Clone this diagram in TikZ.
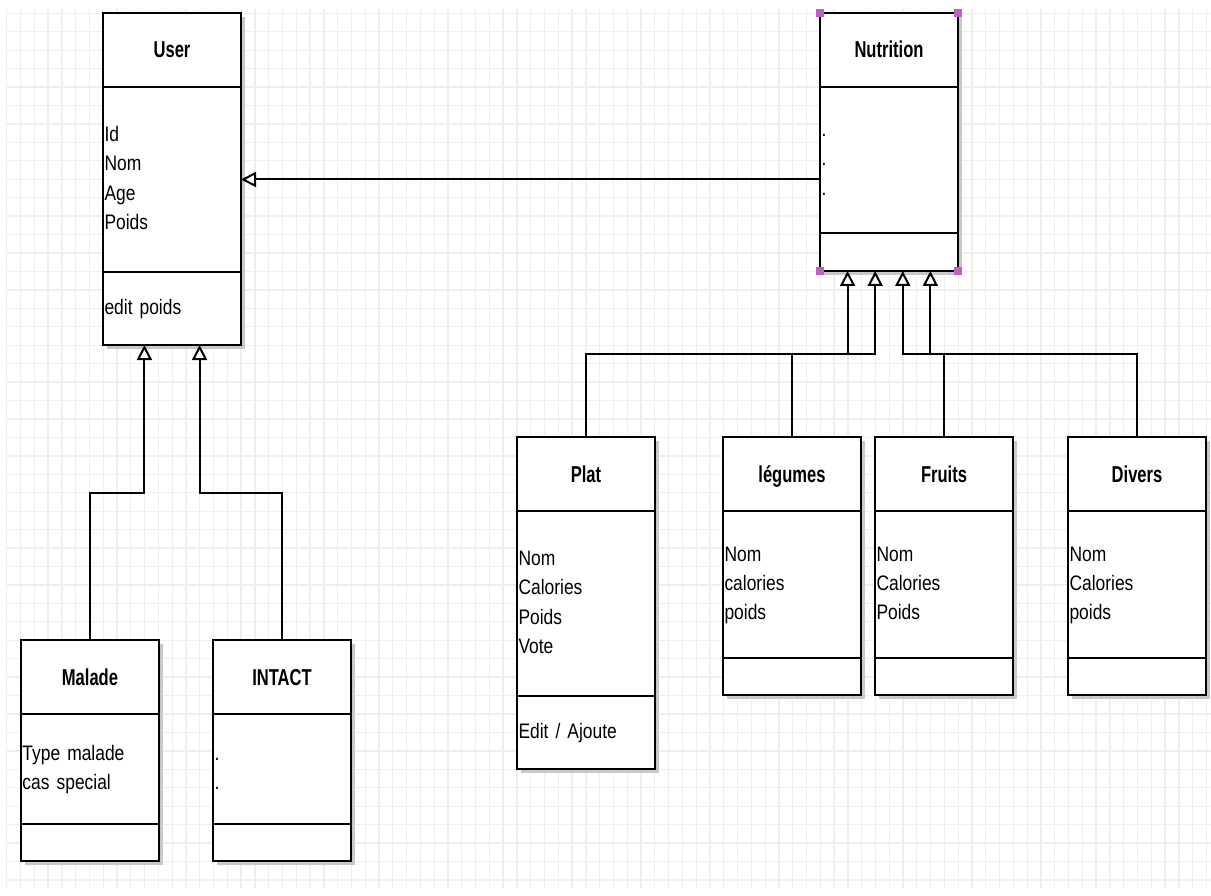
\documentclass[tikz,border=0pt]{standalone}
\usepackage{fontspec}
\setmainfont{Liberation Sans}[FakeStretch=0.83]
\newfontfamily\titlefont{Liberation Sans}[FakeStretch=0.72]
\newcommand\attrfont{\fontsize{21}{29.3}\selectfont\spaceskip=3.6pt\relax}
\usetikzlibrary{positioning,arrows.meta,backgrounds,calc}
\definecolor{handle}{RGB}{192,96,192}
\definecolor{gridgray}{RGB}{238,238,238}
\definecolor{shadowgray}{RGB}{200,200,200}

\begin{document}
\begin{tikzpicture}[x=1pt,y=-1pt,
	head/.style={draw,fill=white,line width=2pt,outer sep=0pt,minimum width=138pt,minimum height=74pt,
		text height=16pt,text depth=0pt,font=\titlefont\bfseries\fontsize{23}{27}\selectfont},
	attr/.style={draw,fill=white,line width=2pt,outer sep=0pt,inner xsep=1.5pt,inner ysep=0pt,
		text width=135pt,align=left,minimum height=#1,font=\attrfont,
		execute at begin node=\strut,execute at end node=\strut},
	gen/.style={line width=2pt,-{Triangle[fill=white,length=15pt,width=15pt]}},
	gridpen/.style={gridgray,line width=1.3pt}]
	\useasboundingbox (0,0) rectangle (1211,896);

	% classes
	\node[head,anchor=north west] (user) at (103,13) {User};
	\node[attr=185pt,below=0pt of user] (user-a) {Id\\Nom\\Age\\Poids};
	\node[attr=73pt,below=0pt of user-a] (user-m) {edit poids};

	\node[head,anchor=north west] (nutr) at (820,13) {Nutrition};
	\node[attr=146pt,below=0pt of nutr] (nutr-a) {.\\.\\.};
	\node[attr=38pt,below=0pt of nutr-a] (nutr-m) {};

	\node[head,anchor=north west] (plat) at (517,437) {Plat};
	\node[attr=185pt,below=0pt of plat] (plat-a) {Nom\\Calories\\Poids\\Vote};
	\node[attr=73pt,below=0pt of plat-a] (plat-m) {Edit / Ajoute};

	\node[head,anchor=north west] (leg) at (723,437) {légumes};
	\node[attr=147pt,below=0pt of leg] (leg-a) {Nom\\calories\\poids};
	\node[attr=37pt,below=0pt of leg-a] (leg-m) {};

	\node[head,anchor=north west] (fruits) at (875,437) {Fruits};
	\node[attr=147pt,below=0pt of fruits] (fruits-a) {Nom\\Calories\\Poids};
	\node[attr=37pt,below=0pt of fruits-a] (fruits-m) {};

	\node[head,anchor=north west] (divers) at (1068,437) {Divers};
	\node[attr=147pt,below=0pt of divers] (divers-a) {Nom\\Calories\\poids};
	\node[attr=37pt,below=0pt of divers-a] (divers-m) {};

	\node[head,anchor=north west] (malade) at (21,640) {Malade};
	\node[attr=110pt,below=0pt of malade] (malade-a) {Type malade\\cas special};
	\node[attr=37pt,below=0pt of malade-a] (malade-m) {};

	\node[head,anchor=north west] (intact) at (213,640) {INTACT};
	\node[attr=110pt,below=0pt of intact] (intact-a) {.\\.};
	\node[attr=37pt,below=0pt of intact-a] (intact-m) {};

	% inheritance
	\coordinate (bus-u) at (0,493);
	\coordinate (bus-n) at (0,354);
	\coordinate (u1) at ($(user-m.south west)!0.3!(user-m.south east)$);
	\coordinate (u2) at ($(user-m.south west)!0.7!(user-m.south east)$);
	\coordinate (n1) at ($(nutr-m.south west)!0.2!(nutr-m.south east)$);
	\coordinate (n2) at ($(nutr-m.south west)!0.4!(nutr-m.south east)$);
	\coordinate (n3) at ($(nutr-m.south west)!0.6!(nutr-m.south east)$);
	\coordinate (n4) at ($(nutr-m.south west)!0.8!(nutr-m.south east)$);

	\draw[gen] (nutr-a.west |- user-a.east) -- (user-a.east);
	\draw[gen] (malade.north) |- (u1 |- bus-u) -- (u1);
	\draw[gen] (intact.north) |- (u2 |- bus-u) -- (u2);
	\draw[gen] (plat.north) |- (n1 |- bus-n) -- (n1);
	\draw[gen] (leg.north) |- (n2 |- bus-n) -- (n2);
	\draw[gen] (fruits.north) |- (n3 |- bus-n) -- (n3);
	\draw[gen] (divers.north) |- (n4 |- bus-n) -- (n4);

	% selection handles
	\foreach \p in {nutr.north west,nutr.north east,nutr-m.south west,nutr-m.south east}
		\fill[handle] ([shift={(-4,-4)}]\p) rectangle ([shift={(4,4)}]\p);

	\begin{scope}[on background layer]
		\fill[white] (0,0) rectangle (1211,896);
		\foreach \i in {0,...,87}
			\draw[gridpen] ({6.7+13.79*\i},9) -- ({6.7+13.79*\i},888);
		\foreach \j in {0,...,47}
			\draw[gridpen] (6.7,{13.3+18.44*\j}) -- (1211,{13.3+18.44*\j});
		\foreach \c in {user,nutr,plat,leg,fruits,divers,malade,intact}
			\fill[shadowgray] ([shift={(4,4)}]\c.north west) rectangle ([shift={(4,4)}]\c-m.south east);
	\end{scope}
\end{tikzpicture}
\end{document}
